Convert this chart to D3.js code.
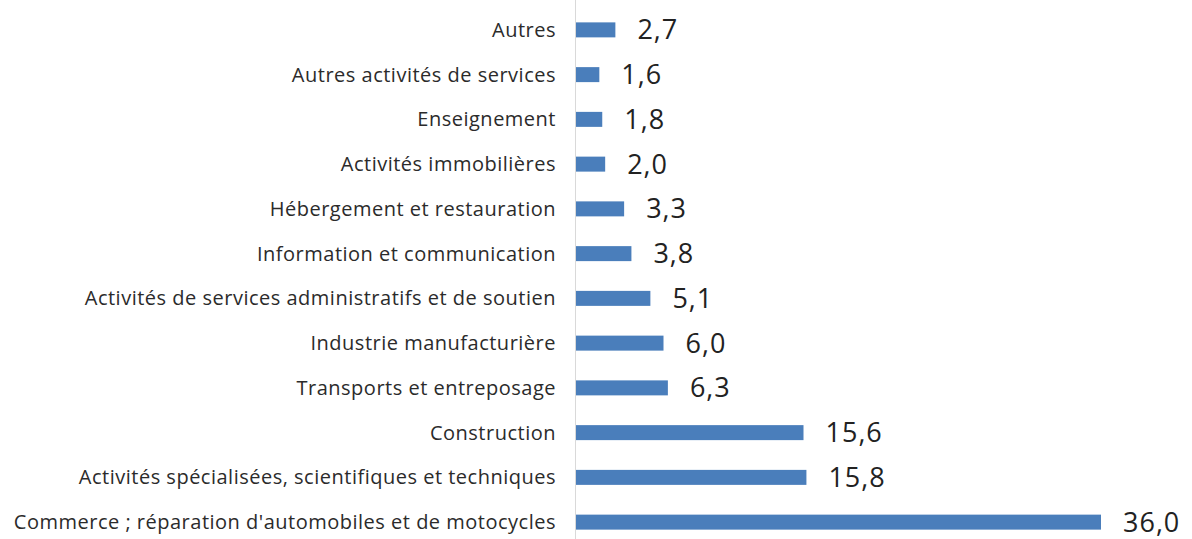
<!DOCTYPE html>
<meta charset="utf-8">
<style>
    body { margin: 0; background: #fff; }
    .cat text { font-family: "Open Sans", sans-serif; font-size: 20px; letter-spacing: 0.5px; fill: #2b2b2b; }
    .vals text { font-family: "Open Sans", sans-serif; font-size: 27px; letter-spacing: 1px; fill: #222; }
    .baseline { stroke: #d9d9d9; stroke-width: 1; }
</style>
<body>
<script src="https://d3js.org/d3.v7.min.js"></script>
<script>
    // Sectors, top to bottom as in the chart
    var categories = [
        "Autres",
        "Autres activités de services",
        "Enseignement",
        "Activités immobilières",
        "Hébergement et restauration",
        "Information et communication",
        "Activités de services administratifs et de soutien",
        "Industrie manufacturière",
        "Transports et entreposage",
        "Construction",
        "Activités spécialisées, scientifiques et techniques",
        "Commerce ; réparation d'automobiles et de motocycles"
    ];
    var values = [2.7, 1.6, 1.8, 2.0, 3.3, 3.8, 5.1, 6.0, 6.3, 15.6, 15.8, 36.0];

    var width = 1192, height = 539;
    var x0 = 576;

    var svg = d3.select("body").append("svg")
        .attr("width", width).attr("height", height);

    var x = d3.scaleLinear().domain([0, 36]).range([x0, 1101]);
    var y = d3.scaleBand().domain(categories).range([0, 552])
        .paddingInner(0.665).paddingOuter(0.5);

    var fr = d3.formatLocale({decimal: ",", thousands: " ", grouping: [3], currency: ["", " €"]});
    var fmt = fr.format(".1f");

    var data = categories.map(function(c, i) { return {name: c, value: values[i]}; });

    // category labels
    svg.append("g").attr("class", "cat")
        .selectAll("text")
        .data(data)
        .enter().append("text")
        .attr("x", x0 - 20)
        .attr("y", function(d) { return y(d.name) + y.bandwidth() / 2; })
        .attr("dy", "0.35em")
        .attr("text-anchor", "end")
        .text(function(d) { return d.name; });

    // bars
    svg.append("g")
        .selectAll("rect")
        .data(data)
        .enter().append("rect")
        .attr("x", x(0))
        .attr("y", function(d) { return y(d.name); })
        .attr("width", function(d) { return x(d.value) - x(0); })
        .attr("height", y.bandwidth())
        .attr("fill", "#4a7ebb");

    // vertical axis line
    svg.append("line").attr("class", "baseline")
        .attr("x1", x0 - 0.5).attr("x2", x0 - 0.5)
        .attr("y1", 0).attr("y2", height);

    // value labels
    svg.append("g").attr("class", "vals")
        .selectAll("text")
        .data(data)
        .enter().append("text")
        .attr("x", function(d) { return x(d.value) + 22; })
        .attr("y", function(d) { return y(d.name) + y.bandwidth() / 2; })
        .attr("dy", "0.35em")
        .text(function(d) { return fmt(d.value); });
</script>
</body>
